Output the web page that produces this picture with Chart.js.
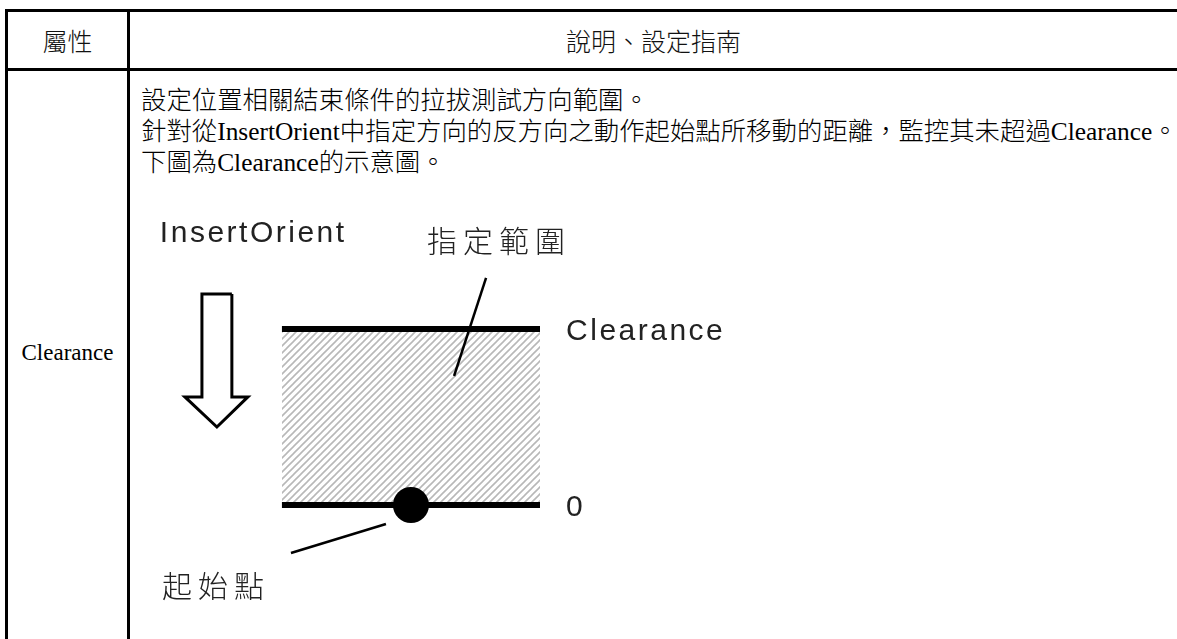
<!DOCTYPE html>
<html>
<head>
<meta charset="utf-8">
<script src="https://cdn.jsdelivr.net/npm/chart.js@4/dist/chart.umd.min.js"></script>
<style>
  html, body { margin: 0; padding: 0; background: #fff; }
  body { width: 1177px; height: 639px; overflow: hidden; position: relative; }
  .rule { position: absolute; background: #000; }
  .head { position: absolute; top: 12px; height: 56px; line-height: 56px; text-align: center;
          font-family: "Noto Sans CJK TC", "Noto Sans", sans-serif; font-size: 25px; color: #111;
          font-weight: 200; }
  .desc { position: absolute; left: 141px; top: 85px; white-space: nowrap;
          font-family: "Liberation Serif", "Noto Sans CJK TC", serif; font-size: 25.4px; line-height: 31px;
          font-weight: 200; color: #000; }
  .attr { position: absolute; left: 8px; width: 119px; top: 340px; text-align: center;
          font-family: "Liberation Serif", serif; font-size: 23px; color: #000; }
  #diagram { position: absolute; left: 140px; top: 180px; }
</style>
</head>
<body>
<!-- table lines -->
<div class="rule" style="left:5px; top:9px; width:1180px; height:3px"></div>
<div class="rule" style="left:5px; top:68px; width:1180px; height:3px"></div>
<div class="rule" style="left:5px; top:9px; width:3px; height:640px"></div>
<div class="rule" style="left:127px; top:9px; width:3px; height:640px"></div>

<div class="head" style="left:8px; width:119px">屬性</div>
<div class="head" style="left:130px; width:1047px">說明、設定指南</div>

<div class="attr">Clearance</div>
<div class="desc">
  設定位置相關結束條件的拉拔測試方向範圍。<br>
  針對從InsertOrient中指定方向的反方向之動作起始點所移動的距離，監控其未超過Clearance。<br>
  下圖為Clearance的示意圖。
</div>

<canvas id="diagram" width="640" height="459"></canvas>

<script>
// diagram data (y: 0 = start level, 1 = Clearance level)
const rangeX = [0, 1];
const clearanceLevel = [1, 1];
const zeroLevel = [0, 0];
const startX = [0.5];
const startY = [0];

// hollow InsertOrient arrow outline
const arrowX = [-0.194, -0.194, -0.132, -0.252, -0.376, -0.310, -0.310, -0.194];
const arrowY = [1.199, 0.614, 0.614, 0.443, 0.614, 0.614, 1.199, 1.199];

// leader lines
const rangeLeaderX = [0.791, 0.667];
const rangeLeaderY = [1.290, 0.733];
const startLeaderX = [0.035, 0.403];
const startLeaderY = [-0.273, -0.108];

// labels
const diagramLabels = ["InsertOrient", "指定範圍", "Clearance", "0", "起始點"];
const labelX = [-0.473, 0.562, 1.101, 1.101, -0.465];
const labelY = [1.494, 1.4375, 0.9375, -0.0625, -0.523];

function pts(xs, ys) {
  return xs.map((x, i) => ({ x: x, y: ys[i] }));
}

// hatch pattern
function makeHatch() {
  const s = 7;
  const c = document.createElement("canvas");
  c.width = s; c.height = s;
  const g = c.getContext("2d");
  g.strokeStyle = "#b8b8b8";
  g.lineWidth = 1.6;
  g.beginPath();
  g.moveTo(-1, s + 1); g.lineTo(s + 1, -1);
  g.moveTo(-1, 1); g.lineTo(1, -1);
  g.moveTo(s - 1, s + 1); g.lineTo(s + 1, s - 1);
  g.stroke();
  return g.createPattern(c, "repeat");
}

const ctx = document.getElementById("diagram").getContext("2d");

const labelPlugin = {
  id: "labels",
  afterDatasetsDraw(chart) {
    const c = chart.ctx;
    const sx = chart.scales.x, sy = chart.scales.y;
    c.save();
    c.fillStyle = "#222";
    c.textBaseline = "alphabetic";
    c.textAlign = "left";
    diagramLabels.forEach((t, i) => {
      const cjk = /[\u4e00-\u9fff]/.test(t);
      c.font = cjk ? "300 30px 'Noto Sans CJK TC', sans-serif" : "30px 'Liberation Sans', Arial, sans-serif";
      c.letterSpacing = cjk ? "6px" : "2.5px";
      c.fillText(t, sx.getPixelForValue(labelX[i]), sy.getPixelForValue(labelY[i]));
    });
    c.restore();
  }
};

const lineStyle = { showLine: true, pointRadius: 0, borderColor: "#000", tension: 0, fill: false };

new Chart(ctx, {
  type: "scatter",
  data: {
    datasets: [
      { ...lineStyle, data: pts(rangeX, clearanceLevel), borderWidth: 0,
        backgroundColor: makeHatch(), fill: { value: 0 }, order: 10 },
      { ...lineStyle, data: pts(rangeX, clearanceLevel), borderWidth: 6, order: 2 },
      { ...lineStyle, data: pts(rangeX, zeroLevel), borderWidth: 6, order: 2 },
      { data: pts(startX, startY), pointRadius: 18, backgroundColor: "#000",
        borderWidth: 0, order: 1 },
      { ...lineStyle, data: pts(arrowX, arrowY), borderWidth: 3, borderJoinStyle: "miter", order: 3 },
      { ...lineStyle, data: pts(rangeLeaderX, rangeLeaderY), borderWidth: 2.5, order: 0 },
      { ...lineStyle, data: pts(startLeaderX, startLeaderY), borderWidth: 2.5, order: 0 }
    ]
  },
  options: {
    responsive: false,
    animation: false,
    events: [],
    layout: { padding: 0, autoPadding: false },
    plugins: { legend: { display: false }, tooltip: { enabled: false } },
    scales: {
      x: { type: "linear", min: -0.55, max: 1.93, display: false },
      y: { type: "linear", min: -0.7614, max: 1.8466, display: false }
    }
  },
  plugins: [labelPlugin]
});
</script>
</body>
</html>
